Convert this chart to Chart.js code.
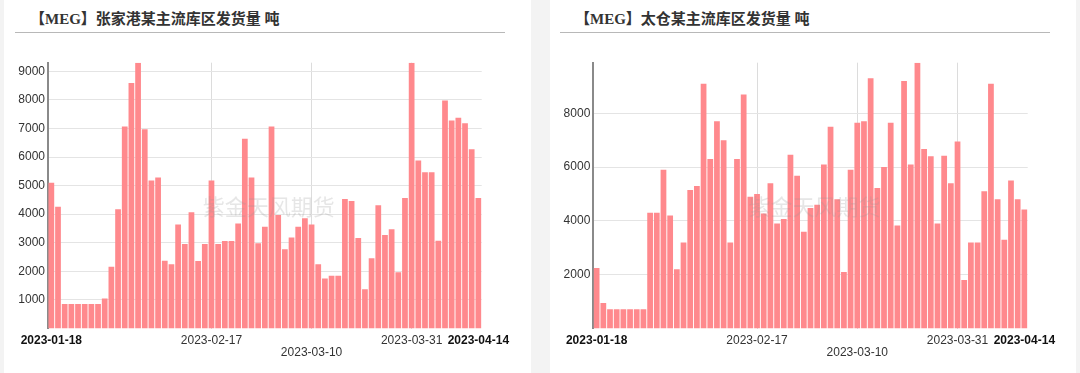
<!DOCTYPE html>
<html>
<head>
<meta charset="utf-8">
<script src="https://cdn.jsdelivr.net/npm/chart.js@4.4.0/dist/chart.umd.min.js"></script>
<style>
  body { margin: 0; width: 1080px; height: 373px; background: #f3f3f3; position: relative; overflow: hidden; }
  .panel { position: absolute; top: 0; height: 373px; background: #fff; }
  .title { position: absolute; top: 7px; line-height: 18px; font: bold 15px "Liberation Serif", "Noto Sans CJK SC", serif; color: #333; white-space: nowrap; }
  .rule { position: absolute; top: 32px; height: 1px; background: #b8b8b8; }
  canvas { position: absolute; left: 0; top: 40px; }
</style>
</head>
<body>
<div class="panel" style="left:4px;width:527px">
  <div class="title" style="left:26px">【MEG】张家港某主流库区发货量 吨</div>
  <div class="rule" style="left:11px;width:490px"></div>
  <canvas id="zjg" width="527" height="333"></canvas>
</div>
<div class="panel" style="left:550px;width:526px">
  <div class="title" style="left:25px">【MEG】太仓某主流库区发货量 吨</div>
  <div class="rule" style="left:10px;width:490px"></div>
  <canvas id="tc" width="526" height="333"></canvas>
</div>
<script>
// trading days, 2023-01-18 .. 2023-04-14
const dates = [
  '2023-01-18','2023-01-19','2023-01-20','2023-01-23','2023-01-24','2023-01-25','2023-01-26','2023-01-27',
  '2023-01-28','2023-01-29','2023-01-30','2023-01-31','2023-02-01','2023-02-02','2023-02-03',
  '2023-02-06','2023-02-07','2023-02-08','2023-02-09','2023-02-10',
  '2023-02-13','2023-02-14','2023-02-15','2023-02-16','2023-02-17',
  '2023-02-20','2023-02-21','2023-02-22','2023-02-23','2023-02-24',
  '2023-02-27','2023-02-28','2023-03-01','2023-03-02','2023-03-03',
  '2023-03-06','2023-03-07','2023-03-08','2023-03-09','2023-03-10',
  '2023-03-13','2023-03-14','2023-03-15','2023-03-16','2023-03-17',
  '2023-03-20','2023-03-21','2023-03-22','2023-03-23','2023-03-24',
  '2023-03-27','2023-03-28','2023-03-29','2023-03-30','2023-03-31',
  '2023-04-03','2023-04-04','2023-04-05','2023-04-06','2023-04-07',
  '2023-04-10','2023-04-11','2023-04-12','2023-04-13','2023-04-14'
];

// 张家港 发货量 (吨)
const zjgValues = [
  5100,4260,860,860,860,860,860,860,1050,2160,
  4170,7070,8590,9300,6970,5180,5280,2370,2250,3640,
  2960,4070,2360,2960,5180,2960,3060,3060,3670,6640,
  5280,2980,3560,7070,3970,2770,3180,3560,3860,3640,
  2250,1750,1850,1850,4530,4460,3170,1370,2460,4310,
  3270,3470,1970,4570,9300,5880,5470,5470,3070,7980,
  7280,7370,7180,6270,4570
];

// 太仓 发货量 (吨)
const tcValues = [
  2250,950,720,720,720,720,720,720,4300,4300,
  5900,4200,2200,3200,5150,5300,9100,6300,7700,7000,
  3200,6300,8700,4900,5000,4270,5400,3900,4070,6460,
  5680,3600,4480,4600,6100,7500,4800,2100,5900,7650,
  7700,9300,5220,6000,7650,3830,9200,6100,9880,6670,
  6400,3900,6420,5400,6950,1800,3200,3200,5100,9100,
  4800,3300,5500,4800,4420
];

const edgeTicks = ['2023-01-18', '2023-04-14'];
const midTicks = ['2023-02-17', '2023-03-31'];
const lowTicks = ['2023-03-10'];

Chart.defaults.font.family = 'Arial, "Liberation Sans", sans-serif';

const watermark = {
  id: 'watermark',
  afterDatasetsDraw(chart) {
    const { ctx, chartArea: a } = chart;
    ctx.save();
    ctx.font = '22px "Noto Sans CJK SC", sans-serif';
    ctx.fillStyle = 'rgba(150,150,150,0.24)';
    ctx.textAlign = 'center';
    ctx.textBaseline = 'middle';
    ctx.fillText('紫金天风期货', (a.left + a.right) / 2 + 4, (a.top + a.bottom) / 2 + 11);
    ctx.restore();
  }
};

function makeChart(id, values, step, yWidth, padRight) {
  new Chart(document.getElementById(id), {
    type: 'bar',
    data: {
      labels: dates,
      datasets: [{
        data: values,
        backgroundColor: '#ff898d',
        borderWidth: 0,
        categoryPercentage: 1,
        barPercentage: 0.86
      }]
    },
    plugins: [watermark],
    options: {
      responsive: false,
      animation: false,
      devicePixelRatio: 1,
      layout: { padding: { top: 22.7, right: padRight, bottom: 0, left: 0 } },
      plugins: { legend: { display: false }, tooltip: { enabled: false } },
      scales: {
        x: {
          afterFit(s) { s.height = 44.5 },
          border: { display: false },
          grid: {
            offset: false,
            drawTicks: false,
            color: c => {
              const l = dates[c.index];
              return (midTicks.includes(l) || lowTicks.includes(l)) ? '#dcdcdc' : 'rgba(0,0,0,0)';
            }
          },
          ticks: {
            autoSkip: false,
            maxRotation: 0,
            padding: 6,
            callback(v) {
              const l = this.getLabelForValue(v);
              if (lowTicks.includes(l)) return ['', l];
              if (edgeTicks.includes(l) || midTicks.includes(l)) return l;
              return '';
            },
            font: c => ({ size: 12, lineHeight: 1, weight: edgeTicks.includes(dates[c.index]) ? 'bold' : 'normal' }),
            color: c => edgeTicks.includes(dates[c.index]) ? '#111' : '#333'
          }
        },
        y: {
          bounds: 'data',
          beginAtZero: true,
          afterFit(s) { s.width = yWidth },
          // only the round steps, no 0 and no label at the data max
          afterBuildTicks(s) {
            const t = [];
            for (let v = step; v <= s.max; v += step) t.push({ value: v });
            s.ticks = t;
          },
          border: { display: true, color: '#8a8a8a', width: 2 },
          grid: { drawTicks: false, color: '#e4e4e4' },
          ticks: {
            autoSkip: false,
            padding: 3,
            color: '#333',
            font: { size: 12 },
            callback: v => String(v)
          }
        }
      }
    }
  });
}

makeChart('zjg', zjgValues, 1000, 44, 49.3);
makeChart('tc', tcValues, 2000, 43.3, 48.3);
</script>
</body>
</html>
